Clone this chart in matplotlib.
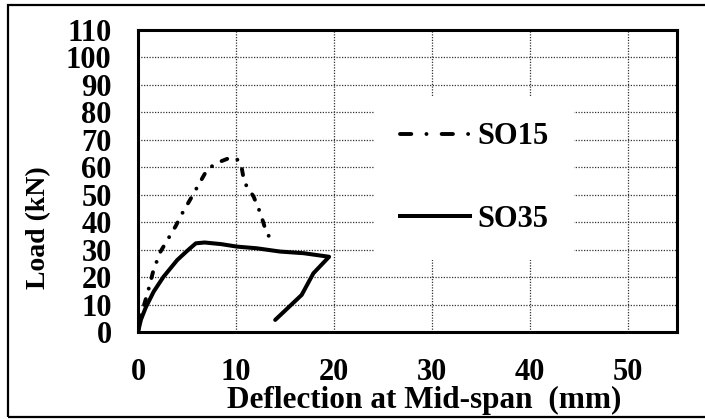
import matplotlib
matplotlib.use('Agg')
import matplotlib.pyplot as plt
from matplotlib.lines import Line2D
from matplotlib.patches import Rectangle

# load-deflection readings (mm, kN)
so15_x = [0, 0.3, 1.0, 1.6, 2.3, 3.0, 3.85, 4.6, 5.4, 6.3, 7.1, 8.2, 9.2, 10.0, 10.5, 10.85, 11.8, 12.5, 13.1, 13.8]
so15_y = [0, 6.0, 14.5, 22.8, 29.3, 33.5, 38.6, 43.8, 48.7, 54.4, 59.4, 61.8, 63.2, 63.3, 61.4, 54.5, 49.3, 43.2, 36.2, 32.7]

so35_x = [0, 0.3, 0.8, 1.6, 2.6, 4.0, 5.0, 5.9, 6.8, 8.5, 10.1, 12.1, 14.5, 16.9, 19.5, 17.9, 16.7, 14.0]
so35_y = [0, 4.5, 9.0, 14.7, 20.1, 26.2, 29.5, 32.3, 32.6, 32.0, 31.1, 30.5, 29.3, 28.7, 27.4, 21.4, 13.5, 4.4]

x_ticks = [0, 10, 20, 30, 40, 50]
y_ticks = [0, 10, 20, 30, 40, 50, 60, 70, 80, 90, 100, 110]

plt.rcParams['font.family'] = ['Liberation Serif', 'DejaVu Serif']
plt.rcParams['font.weight'] = 'bold'

fig = plt.figure(figsize=(7.05, 4.19), dpi=100)
ax = fig.add_axes([138 / 705, 87 / 419, 539 / 705, 302 / 419])

# dash-dot pattern in units of line width
dashdot = (0, (1.55, 2.8, 0.01, 2.8))
ax.plot(so15_x, so15_y, color='black', lw=2.8, linestyle=dashdot,
        dash_capstyle='round', solid_capstyle='round', zorder=2)
ax.plot(so35_x, so35_y, color='black', lw=2.9, solid_capstyle='round',
        solid_joinstyle='round', zorder=3)

ax.set_xlim(0, 55)
ax.set_ylim(0, 110)
ax.set_xticks(x_ticks)
ax.set_yticks(y_ticks)
ax.tick_params(axis='both', length=0, labelsize=22)
ax.tick_params(axis='x', pad=18.5)
ax.tick_params(axis='y', pad=19)

ax.set_axisbelow(True)
ax.grid(True, color='#333333', lw=0.9, linestyle=(0, (1, 1.2)))
for sp in ax.spines.values():
    sp.set_linewidth(2.2)

ax.set_xlabel('Deflection at Mid-span  (mm)', fontsize=22.5, fontweight='bold')
ax.xaxis.set_label_coords(0.5306, -0.179)
ax.set_ylabel('Load (kN)', fontsize=20, fontweight='bold')
ax.yaxis.set_label_coords(-0.161, 0.344)

handles = [
    Line2D([], [], color='black', lw=2.8, linestyle=(0, (2.9, 3.9, 0.01, 3.9)),
           dash_capstyle='round'),
    Line2D([], [], color='black', lw=2.9),
]
leg = ax.legend(handles, ['SO15', 'SO35'], loc='center',
                bbox_to_anchor=(0.624, 0.51), fontsize=22,
                handlelength=2.29, handletextpad=0.23, labelspacing=1.75,
                borderpad=0.85, frameon=True, fancybox=False)
leg.get_frame().set_edgecolor('none')
leg.get_frame().set_facecolor('white')
leg.get_frame().set_alpha(1)

# outer border round the whole chart
fig.patches.append(Rectangle((8 / 705, 2 / 419), 1.1, 412 / 419,
                             transform=fig.transFigure, fill=False,
                             edgecolor='black', lw=1.6, clip_on=False))

fig.savefig('out.png', dpi=100)
